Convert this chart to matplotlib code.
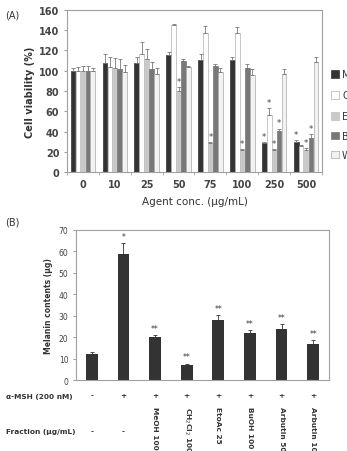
import matplotlib.pyplot as plt
import numpy as np
from matplotlib.patches import Patch

# ---- panel A data ----
conc = ['0', '10', '25', '50', '75', '100', '250', '500']
series = ['MeOH', 'CH$_2$Cl$_2$', 'EtOAc', 'BuOH', 'Water']
meoh = [100, 108, 108, 115, 111, 111, 29, 30]
ch2cl2 = [100, 104, 116, 145, 137, 137, 56, 26]
etoac = [100, 103, 112, 80, 29, 22, 22, 22]
buoh = [100, 102, 102, 110, 105, 103, 41, 34]
water = [100, 99, 97, 104, 99, 96, 97, 109]
meoh_err = [3, 8, 6, 3, 5, 3, 1, 2]
ch2cl2_err = [4, 10, 12, 1, 7, 6, 7, 1]
etoac_err = [5, 10, 9, 4, 1, 1, 1, 2]
buoh_err = [5, 10, 7, 2, 2, 4, 2, 4]
water_err = [3, 7, 6, 1, 4, 6, 5, 5]
# significance marks (series index, group index)
stars_a = [(2, 3), (2, 4), (2, 5), (0, 6), (1, 6), (2, 6), (3, 6), (0, 7), (2, 7), (3, 7)]

# ---- panel B data ----
melanin = [12, 59, 20, 7, 28, 22, 24, 17]
melanin_err = [1.3, 5, 1, 0.7, 2.2, 1.3, 2.2, 1.6]
melanin_sig = ['', '*', '**', '**', '**', '**', '**', '**']
msh = ['-', '+', '+', '+', '+', '+', '+', '+']
fraction = ['-', '-', 'MeOH 100', 'CH$_2$Cl$_2$ 100', 'EtoAc 25', 'BuOH 100', 'Arbutin 50', 'Arbutin 100']

fig = plt.figure(figsize=(3.47, 4.52), dpi=100)
frame = '#a0a0a0'

# ================= (A) =================
ax = fig.add_axes([0.193, 0.617, 0.735, 0.359])
vals = [meoh, ch2cl2, etoac, buoh, water]
errs = [meoh_err, ch2cl2_err, etoac_err, buoh_err, water_err]
faces = ['#333333', '#ffffff', '#c9c9c9', '#787878', '#f2f2f2']
edges = ['#333333', '#b0b0b0', '#c0c0c0', '#787878', '#a8a8a8']
x = np.arange(len(conc))
w = 0.155
for i in range(5):
    xi = x + (i - 2) * w
    ax.bar(xi, vals[i], w * 0.95, color=faces[i], edgecolor=edges[i], linewidth=0.5, zorder=2)
    ax.errorbar(xi, vals[i], yerr=[np.zeros(len(conc)), errs[i]], fmt='none',
                ecolor='#777777', elinewidth=0.6, capsize=1.2, capthick=0.6, zorder=3)
for s, g in stars_a:
    ax.text(x[g] + (s - 2) * w, vals[s][g] + errs[s][g] + 1, '*', ha='center', va='bottom',
            fontsize=6, color='#444444')

ax.set_xlim(-0.5, len(conc) - 0.5)
ax.set_ylim(0, 160)
ax.set_yticks(range(0, 161, 20))
ax.set_xticks(x)
ax.set_xticklabels(conc)
ax.set_xticks(np.arange(-0.5, len(conc)), minor=True)
ax.tick_params(axis='x', which='major', length=0, labelsize=7, colors='#444444', pad=5)
ax.tick_params(axis='x', which='minor', length=2, color=frame)
ax.tick_params(axis='y', length=2, color=frame, labelsize=7, colors='#444444')
for lab in ax.get_yticklabels() + ax.get_xticklabels():
    lab.set_fontweight('bold')
for sp in ax.spines.values():
    sp.set_color(frame)
    sp.set_linewidth(0.8)
ax.set_ylabel('Cell viability (%)', fontsize=7, fontweight='bold', color='#333333', labelpad=3)
ax.set_xlabel('Agent conc. (µg/mL)', fontsize=7.5, color='#333333', labelpad=5)

handles = [Patch(facecolor=faces[i], edgecolor=edges[i], linewidth=0.5) for i in range(5)]
fig.legend(handles, series, loc='upper left', bbox_to_anchor=(0.93, 0.864), frameon=False,
           fontsize=7, handlelength=0.8, handleheight=0.8, handletextpad=0.3, labelspacing=0.95,
           labelcolor='#333333')

fig.text(0.015, 0.965, '(A)', fontsize=7, color='#333333', va='center')

# ================= (B) =================
bx = fig.add_axes([0.219, 0.157, 0.729, 0.332])
xb = np.arange(len(melanin))
bx.bar(xb, melanin, 0.37, color='#333333', zorder=2)
bx.errorbar(xb, melanin, yerr=[np.zeros(len(melanin)), melanin_err], fmt='none',
            ecolor='#333333', elinewidth=0.6, capsize=1.5, capthick=0.6, zorder=3)
for i, s in enumerate(melanin_sig):
    if s:
        bx.text(xb[i], melanin[i] + melanin_err[i] + 1, s, ha='center', va='bottom',
                fontsize=5.5, color='#333333')
bx.set_xlim(-0.5, len(melanin) - 0.5)
bx.set_ylim(0, 70)
bx.set_yticks(range(0, 71, 10))
bx.set_xticks([])
bx.tick_params(axis='y', length=2, color=frame, labelsize=5.5, colors='#444444')
for sp in bx.spines.values():
    sp.set_color(frame)
    sp.set_linewidth(0.8)
bx.set_ylabel('Melanin contents (µg)', fontsize=5.5, fontweight='bold', color='#333333', labelpad=4)

trans = bx.get_xaxis_transform()
for i in range(len(melanin)):
    bx.text(xb[i], -0.1, msh[i], transform=trans, ha='center', va='center',
            fontsize=5.3, fontweight='bold', color='#333333')
    if fraction[i] == '-':
        bx.text(xb[i], -0.34, '-', transform=trans, ha='center', va='center',
                fontsize=5.3, fontweight='bold', color='#333333')
    else:
        bx.text(xb[i], -0.175, fraction[i], transform=trans, ha='center', va='top',
                rotation=-90, fontsize=5.3, fontweight='bold', color='#333333')
fig.text(0.017, 0.122, 'α-MSH (200 nM)', fontsize=5.3, fontweight='bold', color='#333333', va='center')
fig.text(0.017, 0.044, 'Fraction (µg/mL)', fontsize=5.3, fontweight='bold', color='#333333', va='center')
fig.text(0.015, 0.508, '(B)', fontsize=7, color='#333333', va='center')

fig.savefig('out.png', dpi=100)
